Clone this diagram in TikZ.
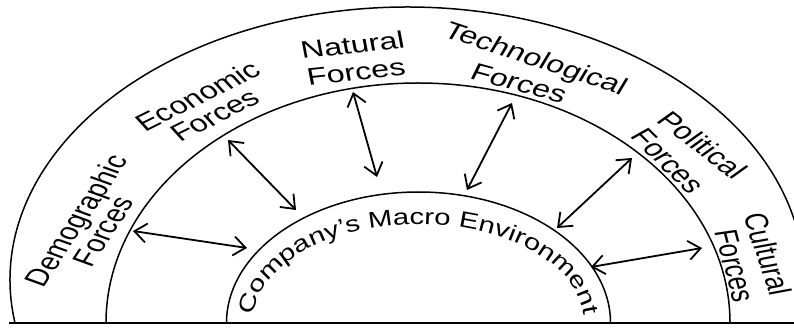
\documentclass[tikz,border=0pt]{standalone}
\usepackage{fontspec}
\setmainfont{Liberation Sans}
\newfontfamily\compfont[FakeStretch=1.3]{Liberation Sans}
\newcommand{\compsize}{\compfont\fontsize{22.5}{26}\selectfont}
\usetikzlibrary{arrows.meta,decorations.text}
\begin{document}
\begin{tikzpicture}[x=1pt,y=1pt,
  arcline/.style={line width=1.5pt},
  force/.style={font=\fontsize{24}{28}\selectfont, inner sep=0pt, transform shape},
  link/.style={line width=1.8pt, {Straight Barb[length=12pt,width=19pt]}-{Straight Barb[length=12pt,width=19pt]}}]
\useasboundingbox (0,0) rectangle (794,329);
% base line and arcs
\coordinate (bl) at (9,6);
\coordinate (br) at (794,6);
\draw[line width=1.8pt] (bl) -- (br);
\draw[arcline] (15,6) arc[start angle=189.06, end angle=12.5, x radius=397, y radius=273];
\draw[arcline] (106,6) arc[start angle=180, end angle=0, x radius=312, y radius=240];
\draw[arcline] (226.5,6) arc[start angle=180, end angle=0, x radius=192, y radius=131];
% curved centre text
\path[decorate, decoration={text along path, text align=center,
  text={|\compsize|Company’s Macro Environment}}]
  (252.5,6) arc[start angle=180, end angle=0, x radius=166, y radius=99];
% force labels
\begin{scope}[shift={(418,6)}, xscale=1.35]
  \node[force, rotate=64]  (demo1) at (-251.5,101.5) {Demographic};
  \node[force, rotate=64]  (demo2) at (-233,91.5)    {Forces};
  \node[force, rotate=34]  (econ1) at (-163.3,227)   {Economic};
  \node[force, rotate=34]  (econ2) at (-150.4,207.5) {Forces};
  \node[force, rotate=8]   (nat1)  at (-48.5,278)    {Natural};
  \node[force, rotate=8]   (nat2)  at (-45.9,251)    {Forces};
  \node[force, rotate=-24] (tech1) at (86.5,263)     {Technological};
  \node[force, rotate=-20] (tech2) at (74.8,240)     {Forces};
  \node[force, rotate=-46] (pol1)  at (211.1,178)    {Political};
  \node[force, rotate=-53] (pol2)  at (185.2,162)    {Forces};
  \node[force, rotate=-76] (cult1) at (259.3,69)     {Cultural};
  \node[force, rotate=-79] (cult2) at (234.8,57)     {Forces};
\end{scope}
% arrows
\coordinate (a1o) at (133,98);  \coordinate (a1i) at (247,81);
\coordinate (a2o) at (228,189); \coordinate (a2i) at (296,119);
\coordinate (a3o) at (353,237); \coordinate (a3i) at (377,152);
\coordinate (a4o) at (512,226); \coordinate (a4i) at (467,139);
\coordinate (a5o) at (632,171); \coordinate (a5i) at (557,101);
\coordinate (a6o) at (702,81);  \coordinate (a6i) at (591,62);
\draw[link] (a1o) -- (a1i);
\draw[link] (a2o) -- (a2i);
\draw[link] (a3o) -- (a3i);
\draw[link] (a4o) -- (a4i);
\draw[link] (a5o) -- (a5i);
\draw[link] (a6o) -- (a6i);
\end{tikzpicture}
\end{document}
